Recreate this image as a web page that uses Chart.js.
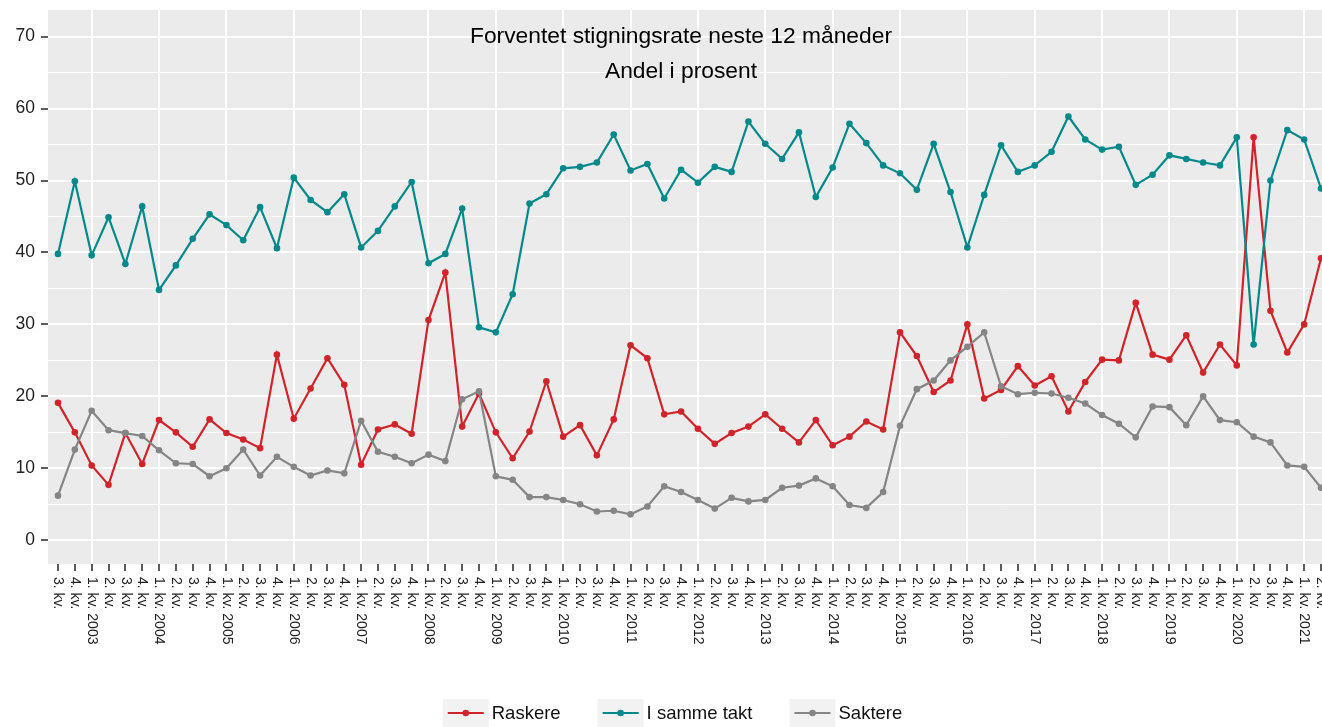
<!DOCTYPE html>
<html>
<head>
<meta charset="utf-8">
<script src="https://cdn.jsdelivr.net/npm/chart.js@4/dist/chart.umd.min.js"></script>
<style>
  body { margin: 0; background: #fff; }
  #wrap { width: 1322px; height: 727px; }
</style>
</head>
<body>
<div id="wrap"><canvas id="chart" width="1322" height="727"></canvas></div>
<script>
// Kvartaler 3. kv. 2002 - 2. kv. 2021
const quarters = [];
for (let year = 2002; year <= 2021; year++) {
    for (let q = 1; q <= 4; q++) {
        if (year === 2002 && q < 3) continue;
        if (year === 2021 && q > 2) continue;
        quarters.push(q === 1 ? q + ". kv. " + year : q + ". kv.");
    }
}

const raskere = [
    19.1, 15.0, 10.4, 7.7, 14.9, 10.6, 16.7, 15.0, 13.0, 16.8,
    14.9, 14.0, 12.8, 25.8, 16.9, 21.1, 25.3, 21.6, 10.5, 15.4,
    16.1, 14.8, 30.6, 37.2, 15.8, 20.4, 15.0, 11.4, 15.1, 22.1,
    14.4, 16.0, 11.8, 16.8, 27.1, 25.3, 17.5, 17.9, 15.5, 13.4,
    14.9, 15.8, 17.5, 15.5, 13.6, 16.7, 13.2, 14.4, 16.5, 15.4,
    28.9, 25.6, 20.6, 22.2, 30.0, 19.7, 20.9, 24.2, 21.5, 22.8,
    17.9, 22.0, 25.1, 25.0, 33.0, 25.8, 25.1, 28.5, 23.3, 27.2,
    24.3, 56.0, 31.9, 26.1, 30.0, 39.2
];

const sammeTakt = [
    39.8, 49.9, 39.6, 44.9, 38.4, 46.4, 34.8, 38.2, 41.9, 45.3,
    43.8, 41.7, 46.3, 40.6, 50.4, 47.3, 45.6, 48.1, 40.7, 43.0,
    46.4, 49.8, 38.5, 39.8, 46.1, 29.6, 28.9, 34.2, 46.8, 48.1,
    51.7, 51.9, 52.5, 56.4, 51.4, 52.3, 47.5, 51.5, 49.7, 51.9,
    51.2, 58.2, 55.1, 53.0, 56.7, 47.7, 51.8, 57.9, 55.2, 52.1,
    51.0, 48.7, 55.1, 48.4, 40.7, 48.0, 54.9, 51.2, 52.1, 54.0,
    58.9, 55.7, 54.3, 54.7, 49.4, 50.8, 53.5, 53.0, 52.5, 52.1,
    56.0, 27.2, 50.0, 57.0, 55.7, 48.9
];

const saktere = [
    6.2, 12.6, 18.0, 15.3, 14.9, 14.5, 12.5, 10.7, 10.6, 8.9,
    10.0, 12.6, 9.0, 11.6, 10.2, 9.0, 9.7, 9.3, 16.6, 12.3,
    11.6, 10.7, 11.9, 11.0, 19.6, 20.7, 8.9, 8.4, 6.0, 6.0,
    5.6, 5.0, 4.0, 4.1, 3.6, 4.7, 7.5, 6.7, 5.6, 4.4,
    5.9, 5.4, 5.6, 7.3, 7.6, 8.6, 7.5, 4.9, 4.5, 6.7,
    15.9, 21.0, 22.2, 25.0, 26.9, 28.9, 21.4, 20.3, 20.5, 20.4,
    19.8, 19.0, 17.4, 16.2, 14.3, 18.6, 18.5, 16.0, 20.0, 16.7,
    16.4, 14.4, 13.6, 10.4, 10.2, 7.3
];

const yTicks = [0, 5, 10, 15, 20, 25, 30, 35, 40, 45, 50, 55, 60, 65, 70];

const seriesNames = ["Raskere", "I samme takt", "Saktere"];
const colors = ["#d0232a", "#00898a", "#858585"];

const FONT = "'Liberation Sans', Arial, sans-serif";

function toPoints(arr) {
    return arr.map((v, i) => ({ x: i, y: v }));
}

// Grå panelbakgrunn, tittel, x-etiketter og legende
const decor = {
    id: "decor",
    beforeDraw(chart) {
        const { ctx, chartArea: a } = chart;
        ctx.save();
        ctx.fillStyle = "#ebebeb";
        ctx.fillRect(a.left, a.top, a.right - a.left, a.bottom - a.top);
        ctx.restore();
    },
    beforeDatasetsDraw(chart) {
        const ctx = chart.ctx;
        ctx.save();
        ctx.fillStyle = "#000";
        ctx.font = "22.8px " + FONT;
        ctx.textAlign = "center";
        ctx.textBaseline = "middle";
        ctx.fillText("Forventet stigningsrate neste 12 måneder", 681, 37);
        ctx.fillText("Andel i prosent", 681, 72);
        ctx.restore();
    },
    afterDraw(chart) {
        const { ctx, chartArea: a } = chart;
        const xs = chart.scales.x;

        // x-etiketter, rotert 90 grader
        ctx.save();
        ctx.fillStyle = "#222";
        ctx.font = "14px " + FONT;
        ctx.textAlign = "left";
        ctx.textBaseline = "middle";
        quarters.forEach((lab, i) => {
            const px = xs.getPixelForValue(i);
            if (px > a.right + 2) return;
            ctx.save();
            ctx.translate(px, a.bottom + 13);
            ctx.rotate(Math.PI / 2);
            ctx.fillText(lab, 0, 0);
            ctx.restore();
        });
        ctx.restore();

        // legende
        ctx.save();
        ctx.font = "18.5px " + FONT;
        ctx.textBaseline = "middle";
        const keyW = 46, textGap = 3, itemGap = 37, cy = 713;
        const widths = seriesNames.map(n => keyW + textGap + ctx.measureText(n).width);
        const total = widths.reduce((s, w) => s + w, 0) + itemGap * (seriesNames.length - 1);
        let x = 672.5 - total / 2;
        seriesNames.forEach((name, i) => {
            ctx.fillStyle = "#f2f2f2";
            ctx.fillRect(x, 699, keyW, 28);
            ctx.strokeStyle = colors[i];
            ctx.lineWidth = 2.2;
            ctx.beginPath();
            ctx.moveTo(x + 5, cy);
            ctx.lineTo(x + keyW - 5, cy);
            ctx.stroke();
            ctx.fillStyle = colors[i];
            ctx.beginPath();
            ctx.arc(x + keyW / 2, cy, 3.3, 0, Math.PI * 2);
            ctx.fill();
            ctx.fillStyle = "#111";
            ctx.textAlign = "left";
            ctx.fillText(name, x + keyW + textGap, cy + 1);
            x += widths[i] + itemGap;
        });
        ctx.restore();
    }
};

const datasets = [raskere, sammeTakt, saktere].map((arr, i) => ({
    label: seriesNames[i],
    data: toPoints(arr),
    borderColor: colors[i],
    backgroundColor: colors[i],
    pointBackgroundColor: colors[i],
    pointBorderWidth: 0,
    pointRadius: 3.3,
    borderWidth: 2.2,
    tension: 0,
    order: 2 - i
}));

new Chart(document.getElementById("chart"), {
    type: "line",
    data: { datasets },
    options: {
        responsive: false,
        devicePixelRatio: 1,
        animation: false,
        layout: { autoPadding: false, padding: { top: 10, left: 0, right: 0, bottom: 0 } },
        plugins: {
            legend: { display: false },
            title: { display: false },
            tooltip: { enabled: false }
        },
        scales: {
            x: {
                type: "linear",
                min: -0.594,
                max: 75.06,
                afterBuildTicks: s => { s.ticks = quarters.map((_, i) => ({ value: i })); },
                afterFit: s => { s.height = 163; s.paddingLeft = 0; s.paddingRight = 0; },
                border: { display: false },
                grid: {
                    color: c => (c.tick && (c.tick.value - 2) % 4 === 0) ? "#ffffff" : "rgba(0,0,0,0)",
                    lineWidth: 2,
                    drawTicks: true,
                    tickLength: 7,
                    tickColor: "#333",
                    tickWidth: 1.6
                },
                ticks: { display: false }
            },
            y: {
                min: -3.3,
                max: 73.7,
                afterBuildTicks: s => { s.ticks = yTicks.map(v => ({ value: v })); },
                afterFit: s => { s.width = 48; s.paddingTop = 0; s.paddingBottom = 0; },
                border: { display: false },
                grid: {
                    color: "#ffffff",
                    lineWidth: c => (c.tick && c.tick.value % 10 === 0) ? 2 : 1,
                    tickLength: 7,
                    tickColor: c => (c.tick && c.tick.value % 10 === 0) ? "#333" : "rgba(0,0,0,0)",
                    tickWidth: 1.6
                },
                ticks: {
                    callback: v => (v % 10 === 0 ? String(v) : ""),
                    color: "#222",
                    font: { family: FONT, size: 17.5 },
                    padding: 6
                }
            }
        }
    },
    plugins: [decor]
});
</script>
</body>
</html>
